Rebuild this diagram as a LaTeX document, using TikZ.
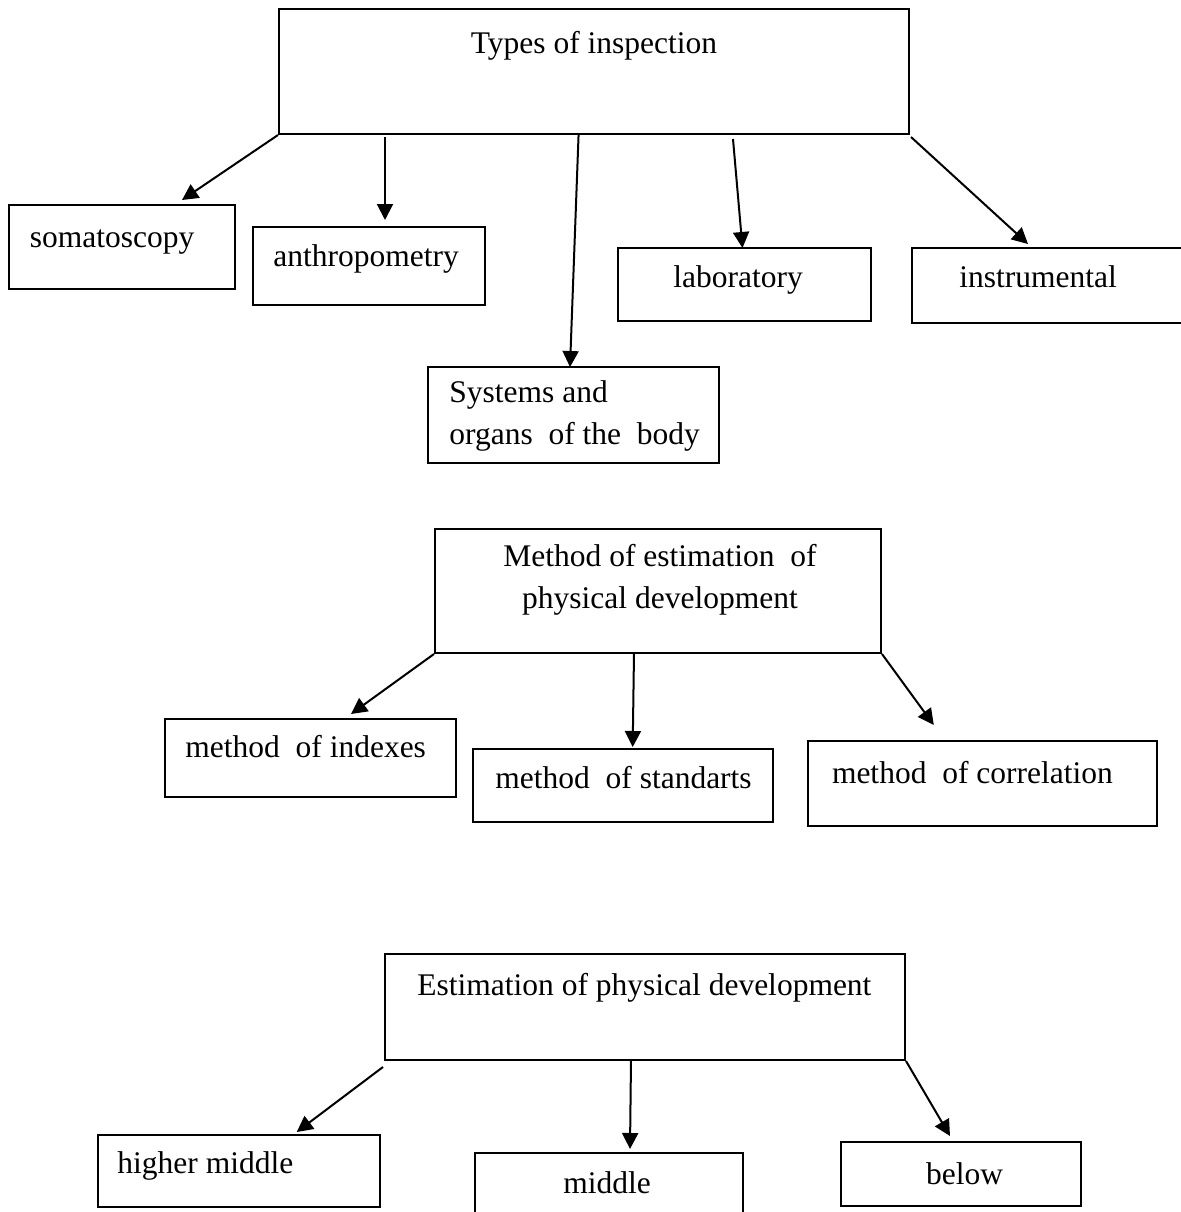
\documentclass[tikz,border=0pt]{standalone}
\usepackage{fontspec}
\setmainfont{Liberation Serif}
\usetikzlibrary{arrows.meta,fit}
\begin{document}
\begin{tikzpicture}[x=0.5pt,y=-0.5pt,
  box/.style={draw, line width=1pt, inner sep=0pt},
  lbl/.style={font=\fontsize{15.75}{21}\selectfont, inner sep=0pt, anchor=base west},
  arr/.style={line width=1pt, -{Triangle[length=8pt,width=8pt]}}]
\useasboundingbox (0,0) rectangle (1181,1212);
\clip (0,0) rectangle (1181,1212);
% ---------- section 1 ----------
\node[box, fit={(279,9) (909,134)}] (types) {};
\node[lbl, anchor=base] (typesT) at (594,53) {Types of inspection};
\node[box, fit={(9,205) (235,289)}] (soma) {};
\node[lbl] (somaT) at (29.5,247) {somatoscopy};
\node[box, fit={(253,227) (485,305)}] (anthro) {};
\node[lbl] (anthroT) at (273,266) {anthropometry};
\node[box, fit={(428,367) (719,463)}] (sys) {};
\node[lbl, align=left] (sysT) at (449,444) {Systems and\\organs \ of the \ body};
\node[box, fit={(618,248) (871,321)}] (lab) {};
\node[lbl] (labT) at (673,287) {laboratory};
\node[box, fit={(912,248) (1220,323)}] (instr) {};
\node[lbl] (instrT) at (959,287) {instrumental};
\coordinate (a1e) at (182,200);
\coordinate (a2s) at (385,137);
\coordinate (a2e) at (385,220);
\coordinate (a3s) at (578.6,134);
\coordinate (a3e) at (570,367);
\coordinate (a4s) at (733,139);
\coordinate (a4e) at (742.5,248);
\coordinate (a5s) at (911,137);
\coordinate (a5e) at (1028,244);
\draw[arr] (types.south west) -- (a1e);
\draw[arr] (a2s) -- (a2e);
\draw[arr] (a3s) -- (a3e);
\draw[arr] (a4s) -- (a4e);
\draw[arr] (a5s) -- (a5e);
% ---------- section 2 ----------
\node[box, fit={(435,529) (881,653)}] (meth) {};
\node[lbl, align=center, anchor=base] (methT) at (660,608) {Method of estimation \ of\\physical development};
\node[box, fit={(164.5,719) (456,797)}] (idx) {};
\node[lbl] (idxT) at (185,757) {method \ of indexes};
\node[box, fit={(473,749) (772.6,822)}] (std) {};
\node[lbl] (stdT) at (495,788) {method \ of standarts};
\node[box, fit={(808.4,741) (1156.6,826)}] (cor) {};
\node[lbl] (corT) at (831.6,783) {method \ of correlation};
\coordinate (b1e) at (351,714);
\coordinate (b2s) at (634,653);
\coordinate (b2e) at (632.7,747);
\coordinate (b3e) at (933.8,725);
\draw[arr] (meth.south west) -- (b1e);
\draw[arr] (b2s) -- (b2e);
\draw[arr] (meth.south east) -- (b3e);
% ---------- section 3 ----------
\node[box, fit={(384.5,954) (905,1060)}] (est) {};
\node[lbl] (estT) at (417,995) {Estimation of physical development};
\node[box, fit={(97.6,1135) (380,1207)}] (high) {};
\node[lbl] (highT) at (117,1173) {higher middle};
\node[box, fit={(475,1153) (743,1240)}] (mid) {};
\node[lbl] (midT) at (563,1193) {middle};
\node[box, fit={(841,1142) (1080.6,1206)}] (below) {};
\node[lbl] (belowT) at (925.8,1184) {below};
\coordinate (c1s) at (383,1067);
\coordinate (c1e) at (296.7,1132);
\coordinate (c2s) at (631,1060);
\coordinate (c2e) at (630,1149);
\coordinate (c3e) at (950,1136);
\draw[arr] (c1s) -- (c1e);
\draw[arr] (c2s) -- (c2e);
\draw[arr] (est.south east) -- (c3e);
\end{tikzpicture}
\end{document}
